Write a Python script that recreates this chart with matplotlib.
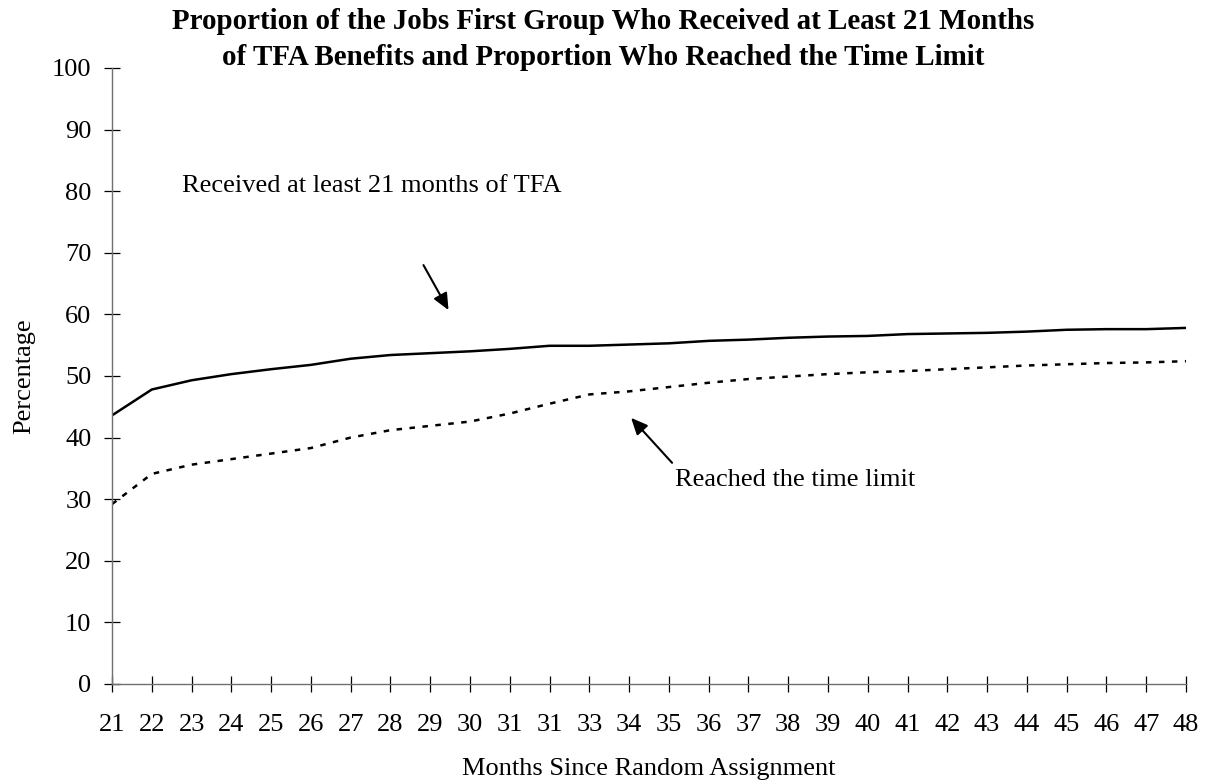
"""
Jobs First: proporción que recibió al menos 21 meses de TFA y proporción
que llegó al límite de tiempo, por mes desde la asignación aleatoria.
"""

import matplotlib

matplotlib.use("Agg")
import matplotlib.pyplot as plt
import numpy as np

# etiquetas del eje x tal como aparecen en el original (el "31" repetido incluido)
MESES = ["21", "22", "23", "24", "25", "26", "27", "28", "29", "30", "31", "31",
         "33", "34", "35", "36", "37", "38", "39", "40", "41", "42", "43", "44",
         "45", "46", "47", "48"]

RECIBIO_21 = [43.6, 47.8, 49.3, 50.3, 51.1, 51.8, 52.8, 53.4, 53.7, 54.0, 54.4,
              54.9, 54.9, 55.1, 55.3, 55.7, 55.9, 56.2, 56.4, 56.5, 56.8, 56.9,
              57.0, 57.2, 57.5, 57.6, 57.6, 57.8]

LIMITE = [29.2, 34.1, 35.6, 36.5, 37.4, 38.3, 40.0, 41.2, 41.9, 42.6, 43.9,
          45.5, 47.0, 47.5, 48.2, 48.9, 49.5, 49.9, 50.3, 50.6, 50.8, 51.1,
          51.4, 51.7, 51.9, 52.1, 52.2, 52.4]

Y_TICKS = list(range(0, 101, 10))

plt.rcParams["font.family"] = ["Liberation Serif", "DejaVu Serif"]

TAM = 19  # tamaño de texto general


def main():
    fig = plt.figure(figsize=(12.07, 7.84), dpi=100)
    ax = fig.add_axes([0.0928, 0.1276, 0.8898, 0.7857])

    x = np.arange(len(MESES))
    ax.plot(x, RECIBIO_21, color="black", linewidth=1.8)
    ax.plot(x, LIMITE, color="black", linewidth=1.8, linestyle=(0, (2.2, 3.0)))

    ax.set_xlim(0, len(MESES) - 1)
    ax.set_ylim(0, 100)
    ax.set_xticks(x)
    ax.set_xticklabels(MESES)
    ax.set_yticks(Y_TICKS)

    for lado in ("top", "right"):
        ax.spines[lado].set_visible(False)
    for lado in ("left", "bottom"):
        ax.spines[lado].set_color("#707070")
        ax.spines[lado].set_linewidth(1.0)
    ax.tick_params(axis="both", direction="inout", length=11.5, width=0.9,
                   color="black", labelsize=TAM)
    ax.tick_params(axis="y", pad=9)
    ax.tick_params(axis="x", pad=16)

    ax.set_ylabel("Percentage", fontsize=TAM, labelpad=12)
    ax.set_xlabel("Months Since Random Assignment", fontsize=TAM, labelpad=16)

    fig.text(0.5, 0.9496,
             "Proportion of the Jobs First Group Who Received at Least 21 Months\n"
             "of TFA Benefits and Proportion Who Reached the Time Limit",
             ha="center", va="center", fontsize=20.9, fontweight="bold",
             linespacing=1.42)

    ax.text(1.76, 80.8, "Received at least 21 months of TFA", fontsize=TAM,
            ha="left", va="center")
    ax.annotate("", xy=(8.46, 60.7), xytext=(7.83, 68.0),
                arrowprops=dict(arrowstyle="-|>,head_length=1.0,head_width=0.45",
                                color="black", lw=1.5, shrinkA=0, shrinkB=0))

    ax.text(14.16, 33.1, "Reached the time limit", fontsize=TAM,
            ha="left", va="center")
    ax.annotate("", xy=(13.05, 43.2), xytext=(14.08, 35.9),
                arrowprops=dict(arrowstyle="-|>,head_length=1.0,head_width=0.45",
                                color="black", lw=1.5, shrinkA=0, shrinkB=0))

    fig.savefig("out.png", dpi=100)
    plt.close(fig)


if __name__ == "__main__":
    main()
